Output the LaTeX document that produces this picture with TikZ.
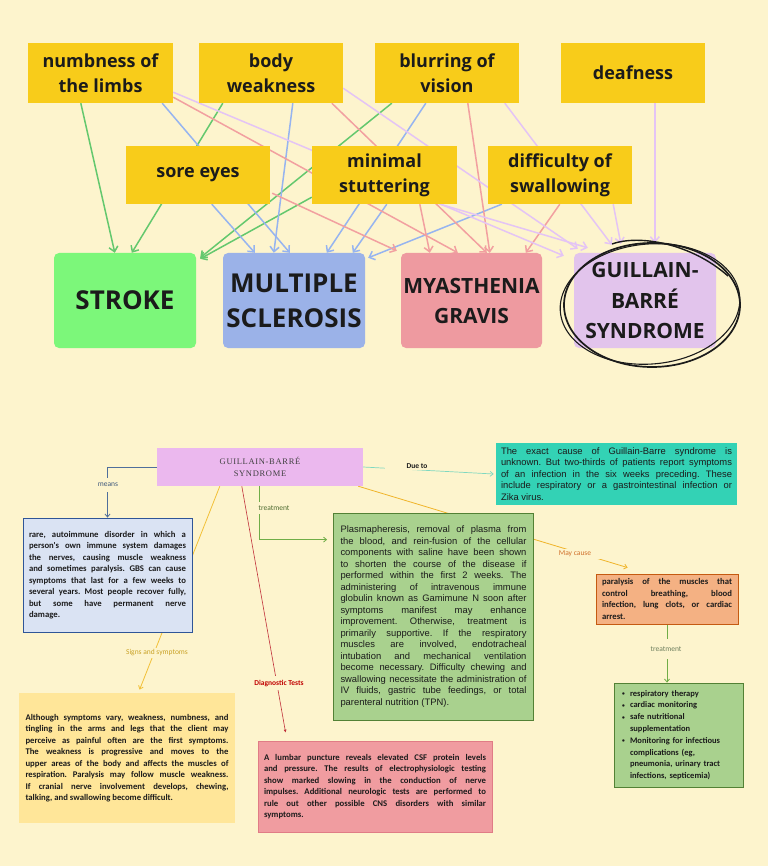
\documentclass[tikz,border=0pt]{standalone}
\usepackage{fontspec}
\usetikzlibrary{arrows.meta,calc}
\newfontfamily\osans{Open Sans}
\newfontfamily\carl{Carlito}
\newfontfamily\arialf{Liberation Sans}
\newfontfamily\hdrfont{Liberation Serif}[LetterSpace=8]
\frenchspacing
\definecolor{bgc}{HTML}{FDF4CD}
\definecolor{symy}{HTML}{F8CC1A}
\definecolor{ink}{HTML}{1B1B1B}
\definecolor{strokeg}{HTML}{7CF77A}
\definecolor{msb}{HTML}{9BB2E8}
\definecolor{mgp}{HTML}{EE9AA0}
\definecolor{gbsl}{HTML}{E2C4EC}
\definecolor{lgreen}{HTML}{64C86E}
\definecolor{lblue}{HTML}{96B4F0}
\definecolor{lpink}{HTML}{F2A0A0}
\definecolor{llav}{HTML}{E4C4F5}
\definecolor{hdrpink}{HTML}{EBB8EE}
\definecolor{hdrtext}{HTML}{404040}
\definecolor{bluef}{HTML}{DAE3F3}
\definecolor{blued}{HTML}{2F5597}
\definecolor{yelf}{HTML}{FFE699}
\definecolor{grnf}{HTML}{A9D18E}
\definecolor{grnd}{HTML}{538135}
\definecolor{tealf}{HTML}{33D2B5}
\definecolor{orgf}{HTML}{F4B183}
\definecolor{orgd}{HTML}{C55A11}
\definecolor{pinkf}{HTML}{F09CA0}
\definecolor{pinkd}{HTML}{E07C86}
\definecolor{meanscol}{HTML}{4F6E9B}
\definecolor{signcol}{HTML}{F2C037}
\definecolor{signtxt}{HTML}{C9A227}
\definecolor{trtcol}{HTML}{70AD47}
\definecolor{trttxt}{HTML}{4E6B30}
\definecolor{duecol}{HTML}{7FD8C0}
\definecolor{maycol}{HTML}{F0B429}
\definecolor{maytxt}{HTML}{D0702B}
\definecolor{diagcol}{HTML}{C0303A}
\definecolor{diagtxt}{HTML}{C00000}
\definecolor{trt2txt}{HTML}{6E7F5E}
\newcommand{\jl}[1]{\noindent\makebox[\hsize][s]{#1}\par}
\newcommand{\lastl}[1]{\noindent #1\par}
\newcommand{\bu}{\makebox[8pt][l]{\raisebox{0.6pt}{\fontsize{5.5}{6}\selectfont •}}}
\pgfdeclarelayer{back}
\pgfsetlayers{back,main}
\begin{document}
\begin{tikzpicture}[x=1pt,y=-1pt,
  symp/.style={fill=symy, minimum width=144pt, minimum height=60pt, inner sep=0pt, align=center, text=ink, font=\osans\bfseries\fontsize{18}{25}\selectfont},
  dis/.style={rounded corners=5pt, minimum width=142pt, minimum height=95pt, inner sep=0pt, align=center, text=ink},
  con/.style={line width=1.5pt, -{Straight Barb[length=5pt,width=9pt]}},
  gcon/.style={con, draw=lgreen},
  bcon/.style={con, draw=lblue},
  pcon/.style={con, draw=lpink},
  lcon/.style={con, draw=llav},
  tbox/.style={inner ysep=0pt, align=justify, text=ink, line width=0.8pt},
  calfont/.style={font=\carl\bfseries\fontsize{8.7}{11.5}\selectfont},
  arfont/.style={font=\arialf\fontsize{9.4}{11.5}\selectfont},
  lbl/.style={fill=bgc, inner xsep=3pt, inner ysep=2pt, font=\carl\fontsize{7.5}{9}\selectfont},
  thin/.style={line width=0.8pt, -{Straight Barb[length=3pt,width=5pt]}}
]
\useasboundingbox (0,0) rectangle (768,866);

% ---------- top: symptoms ----------
\node[symp, minimum width=145pt] (numb) at (100.5,73) {numbness of\\the limbs};
\node[symp] (body) at (271,73) {body\\weakness};
\node[symp] (blur) at (447,73) {blurring of\\vision};
\node[symp] (deaf) at (633,73) {deafness};
\node[symp, minimum height=58pt] (sore) at (198,175) {sore eyes};
\node[symp, minimum height=58pt, minimum width=145pt] (stut) at (384.5,175) {minimal\\stuttering};
\node[symp, minimum height=58pt] (swal) at (560,175) {difficulty of\\swallowing};

% ---------- top: diseases ----------
\node[dis, fill=strokeg, font=\osans\bfseries\fontsize{26}{35}\selectfont] (stroke) at (125,300.5) {STROKE};
\node[dis, fill=msb, font=\osans\bfseries\fontsize{26}{35}\selectfont] (ms) at (294,300.5) {MULTIPLE\\SCLEROSIS};
\node[dis, fill=mgp, minimum width=141pt, font=\osans\bfseries\fontsize{21}{30}\selectfont] (mg) at (471.5,300.5) {MYASTHENIA\\GRAVIS};
\node[dis, fill=gbsl, font=\osans\bfseries\fontsize{21}{30.5}\selectfont] (gbs) at (645,300.5) {GUILLAIN-\\BARRÉ\\SYNDROME};

% hand-drawn circle round GBS
\draw[line width=1.7pt, ink] (652,305) ellipse [x radius=88pt, y radius=62pt];
\draw[line width=1.1pt, ink, rotate around={5:(650,304)}] (650,304) ellipse [x radius=90pt, y radius=60pt];
\draw[line width=1.4pt, ink] (612,244) .. controls (640,234) and (692,244) .. (728,276);

% ---------- bottom: mind map ----------
\node[fill=hdrpink, minimum width=206pt, minimum height=38pt, inner sep=0pt, align=center, text=hdrtext, font=\hdrfont\fontsize{8.5}{12}\selectfont] (hdr) at (260,467) {GUILLAIN-BARRÉ\\SYNDROME};

\node[tbox, calfont, fill=bluef, draw=blued, text width=157pt, inner xsep=6pt, minimum height=114pt] (blue) at (107.5,575) {%
\jl{rare, autoimmune disorder in which a}
\jl{person's own immune system damages}
\jl{the nerves, causing muscle weakness}
\jl{and sometimes paralysis. GBS can cause}
\jl{symptoms that last for a few weeks to}
\jl{several years. Most people recover fully,}
\jl{but some have permanent nerve}
\lastl{damage.}};

\node[tbox, calfont, fill=yelf, text width=203pt, inner xsep=6.5pt, minimum height=130pt] (yel) at (127,758) {%
\jl{Although symptoms vary, weakness, numbness, and}
\jl{tingling in the arms and legs that the client may}
\jl{perceive as painful often are the first symptoms.}
\jl{The weakness is progressive and moves to the}
\jl{upper areas of the body and affects the muscles of}
\jl{respiration. Paralysis may follow muscle weakness.}
\jl{If cranial nerve involvement develops, chewing,}
\lastl{talking, and swallowing become difficult.}};

\node[tbox, arfont, fill=grnf, draw=grnd, text width=186pt, inner xsep=7pt, minimum height=207pt] (grn) at (433.5,616.5) {%
\jl{Plasmapheresis, removal of plasma from}
\jl{the blood, and rein-fusion of the cellular}
\jl{components with saline have been shown}
\jl{to shorten the course of the disease if}
\jl{performed within the first 2 weeks. The}
\jl{administering of intravenous immune}
\jl{globulin known as Gamimune N soon after}
\jl{symptoms manifest may enhance}
\jl{improvement. Otherwise, treatment is}
\jl{primarily supportive. If the respiratory}
\jl{muscles are involved, endotracheal}
\jl{intubation and mechanical ventilation}
\jl{become necessary. Difficulty chewing and}
\jl{swallowing necessitate the administration of}
\jl{IV fluids, gastric tube feedings, or total}
\lastl{parenteral nutrition (TPN).}};

\node[tbox, arfont, fill=tealf, text width=231pt, inner xsep=5pt, minimum height=62pt] (teal) at (616.5,474) {%
\jl{The exact cause of Guillain-Barre syndrome is}
\jl{unknown. But two-thirds of patients report symptoms}
\jl{of an infection in the six weeks preceding. These}
\jl{include respiratory or a gastrointestinal infection or}
\lastl{Zika virus.}};

\node[tbox, calfont, fill=orgf, draw=orgd, text width=130pt, inner xsep=6pt, minimum height=50pt] (org) at (667,599) {%
\jl{paralysis of the muscles that}
\jl{control breathing, blood}
\jl{infection, lung clots, or cardiac}
\lastl{arrest.}};

\node[tbox, calfont, fill=pinkf, draw=pinkd, text width=222pt, inner xsep=6pt, minimum height=91pt] (pink) at (375,786.5) {%
\jl{A lumbar puncture reveals elevated CSF protein levels}
\jl{and pressure. The results of electrophysiologic testing}
\jl{show marked slowing in the conduction of nerve}
\jl{impulses. Additional neurologic tests are performed to}
\jl{rule out other possible CNS disorders with similar}
\lastl{symptoms.}};

\node[tbox, font=\carl\bfseries\fontsize{8.5}{11.8}\selectfont, align=left, fill=grnf, draw=grnd, text width=113pt, inner xsep=8pt, minimum height=104pt] (bul) at (678.5,735) {%
\lastl{\bu respiratory therapy}
\lastl{\bu cardiac monitoring}
\lastl{\bu safe nutritional}
\lastl{\hspace*{8pt}supplementation}
\lastl{\bu Monitoring for infectious}
\lastl{\hspace*{8pt}complications (eg,}
\lastl{\hspace*{8pt}pneumonia, urinary tract}
\lastl{\hspace*{8pt}infections, septicemia)}};

% labels
\node[lbl, text=meanscol!80!black, inner ysep=5pt] (lmeans) at (108,485) {means};
\node[lbl, text=trttxt, inner ysep=4pt] (ltrt) at (274,508) {treatment};
\node[lbl, font=\carl\bfseries\fontsize{7.5}{9}\selectfont, text=ink, inner xsep=22pt] (ldue) at (417,466) {Due to};
\node[lbl, text=maytxt, inner xsep=12pt] (lmay) at (575,554) {May cause};
\node[lbl, text=signtxt, inner xsep=6pt] (lsign) at (157,653) {Signs and symptoms};
\node[lbl, font=\carl\bfseries\fontsize{7.5}{9}\selectfont, text=diagtxt, inner ysep=4pt] (ldiag) at (279,683) {Diagnostic Tests};
\node[lbl, text=trt2txt, inner ysep=8pt] (ltrt2) at (666,649) {treatment};

% ---------- connectors (behind) ----------
\begin{pgfonlayer}{back}
\fill[bgc] (0,0) rectangle (768,866);
% green -> stroke
\draw[gcon] ($(numb.south west)+(53,0)$) -- ($(stroke.north west)+(61,0)$);
\draw[gcon] ($(body.south west)+(24,0)$) -- ($(stroke.north west)+(78,0)$);
\draw[gcon] ($(blur.south west)+(17,0)$) -- ($(stroke.north east)+(4,5)$);
\draw[gcon] ($(stut.south west)+(0,-7)$) -- ($(stroke.north east)+(4,6)$);
% blue -> MS
\draw[bcon] ($(sore.south west)+(86,0)$) -- ($(ms.north west)+(32,0)$);
\draw[bcon] ($(numb.south east)+(-11,0)$) -- ($(ms.north west)+(67,0)$);
\draw[bcon] ($(body.south west)+(94,0)$) -- ($(ms.north west)+(51,0)$);
\draw[bcon] ($(blur.south west)+(51,0)$) -- ($(ms.north west)+(104,0)$);
\draw[bcon] ($(stut.south west)+(75,0)$) -- ($(ms.north west)+(130,0)$);
\draw[bcon] ($(swal.south west)+(14,0)$) -- ($(ms.north east)+(3,5)$);
% pink -> MG
\draw[pcon] ($(sore.south east)+(2,-11)$) -- ($(mg.north west)+(-4,-2)$);
\draw[pcon] ($(stut.south west)+(108,0)$) -- ($(mg.north west)+(29,0)$);
\draw[pcon] ($(numb.south east)+(0,-6)$) -- ($(mg.north west)+(57,0)$);
\draw[pcon] ($(body.south west)+(133,0)$) -- ($(mg.north west)+(86,0)$);
\draw[pcon] ($(blur.south west)+(93,0)$) -- ($(mg.north west)+(89,0)$);
\draw[pcon] ($(swal.south west)+(72,0)$) -- ($(mg.north west)+(125,0)$);
% lavender -> GBS
\draw[lcon] ($(numb.south east)+(0,-11)$) -- ($(gbs.north west)+(-10,3)$);
\draw[lcon] ($(body.south east)+(0,-15)$) -- ($(gbs.north west)+(4,-4)$);
\draw[lcon] ($(stut.south east)+(-17,0)$) -- ($(gbs.north west)+(14,-5)$);
\draw[lcon] ($(blur.south west)+(130,0)$) -- ($(gbs.north west)+(38,-8)$);
\draw[lcon] ($(swal.south east)+(-19,0)$) -- ($(gbs.north west)+(47,-9)$);
\draw[lcon] ($(deaf.south west)+(94,0)$) -- ($(gbs.north west)+(81,-10)$);
% mind map connectors
\draw[thin, draw=meanscol] (hdr.west) -| (blue.north);
\draw[thin, draw=signcol] ($(hdr.south west)+(63,0)$) -- ($(yel.north west)+(121,-3)$);
\draw[thin, draw=trtcol] ($(hdr.south west)+(103,0)$) |- ($(grn.north west)+(-6,27)$);
\draw[thin, draw=duecol, line width=0.7pt] (hdr.east) -- ($(teal.west)+(-2,0)$);
\draw[thin, draw=maycol] ($(hdr.south east)+(-5,0)$) -- ($(org.north west)+(32,-6)$);
\draw[draw=diagcol, line width=0.6pt, -{Latex[length=3pt,width=3pt]}] ($(hdr.south west)+(85,0)$) -- ($(pink.north west)+(28,-8)$);
\draw[thin, draw=trtcol] (org.south) -- (org.south |- bul.north);
\end{pgfonlayer}
\end{tikzpicture}
\end{document}
